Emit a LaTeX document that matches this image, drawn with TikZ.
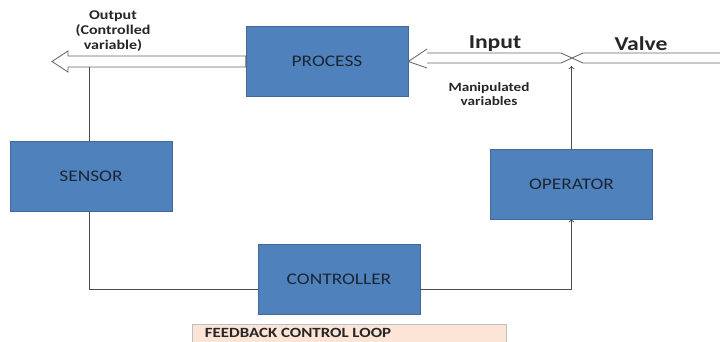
\documentclass[tikz,border=0pt]{standalone}
\usepackage{fontspec}
\setmainfont{Carlito}[FakeStretch=1.2]
\usetikzlibrary{calc}
\definecolor{boxblue}{HTML}{4F81BD}
\definecolor{boxedge}{HTML}{41699A}
\definecolor{boxtext}{HTML}{1C2633}
\definecolor{peach}{HTML}{FCE4D6}

\begin{document}
\begin{tikzpicture}[x=0.025cm, y=-0.025cm,
	block/.style = {draw=boxedge, fill=boxblue, thin, minimum width=4.05cm, minimum height=1.75cm,
		text=boxtext, font=\fontsize{11.5}{13}\selectfont},
	link/.style = {draw=black!70, semithick},
	pipe/.style = {draw=black!60, semithick, line join=miter},
	lbl/.style = {font=\bfseries\fontsize{9.5}{10}\selectfont, align=center, text=black!85}]
\useasboundingbox (0,0) rectangle (720,341);
\node[block] (process) at (327,61.5) {PROCESS};
\node[block] (sensor) at (91,176) {SENSOR};
\node[block] (controller) at (339,279) {CONTROLLER};
\node[block] (operator) at (571.5,184) {OPERATOR};
% output pipe
\coordinate (outtip) at (52,61.5);
\coordinate (outbot) at (89,67);
\filldraw[pipe, fill=white] (process.west |- 0,56) -- (68,56) -- (68,51) -- (outtip)
	-- (68,72) -- (68,67) -- (process.west |- 0,67) -- cycle;
\node[lbl, font=\bfseries\fontsize{9.5}{10.5}\selectfont] (outlbl) at (113,31) {Output\\(Controlled\\variable)};
% input / valve pipe
\coordinate (xpt) at (572,58);
\draw[pipe] (720,53) -- (583,53) -- (xpt) -- (583,63) -- (720,63);
\draw[pipe] (427,49) -- (process.east) -- (427,68);
\draw[pipe] (427,53) -- (561,53) -- (xpt) -- (561,63) -- (427,63);
\node[lbl, font=\bfseries\fontsize{14}{16}\selectfont] (input) at (495,44) {Input};
\node[lbl, font=\bfseries\fontsize{14}{16}\selectfont] (valve) at (641,44) {Valve};
\node[lbl, font=\bfseries\fontsize{9}{9.5}\selectfont] (manip) at (489,94) {Manipulated\\variables};
% loop
\draw[link] (outbot) -- (sensor.north -| outbot);
\draw[link] (sensor.south -| outbot) |- ($(controller.west)+(0,10)$);
\draw[link, ->] ($(controller.east)+(0,10)$) -| (operator.south);
\draw[link, ->] (operator.north) -- (operator.north |- 0,66);
% caption
\filldraw[draw=black!25, fill=peach] (192,324) rectangle (506,348);
\node[anchor=west, font=\bfseries\fontsize{10}{12}\selectfont, text=black!85] (caption) at (200,333) {FEEDBACK CONTROL LOOP};
\end{tikzpicture}
\end{document}
